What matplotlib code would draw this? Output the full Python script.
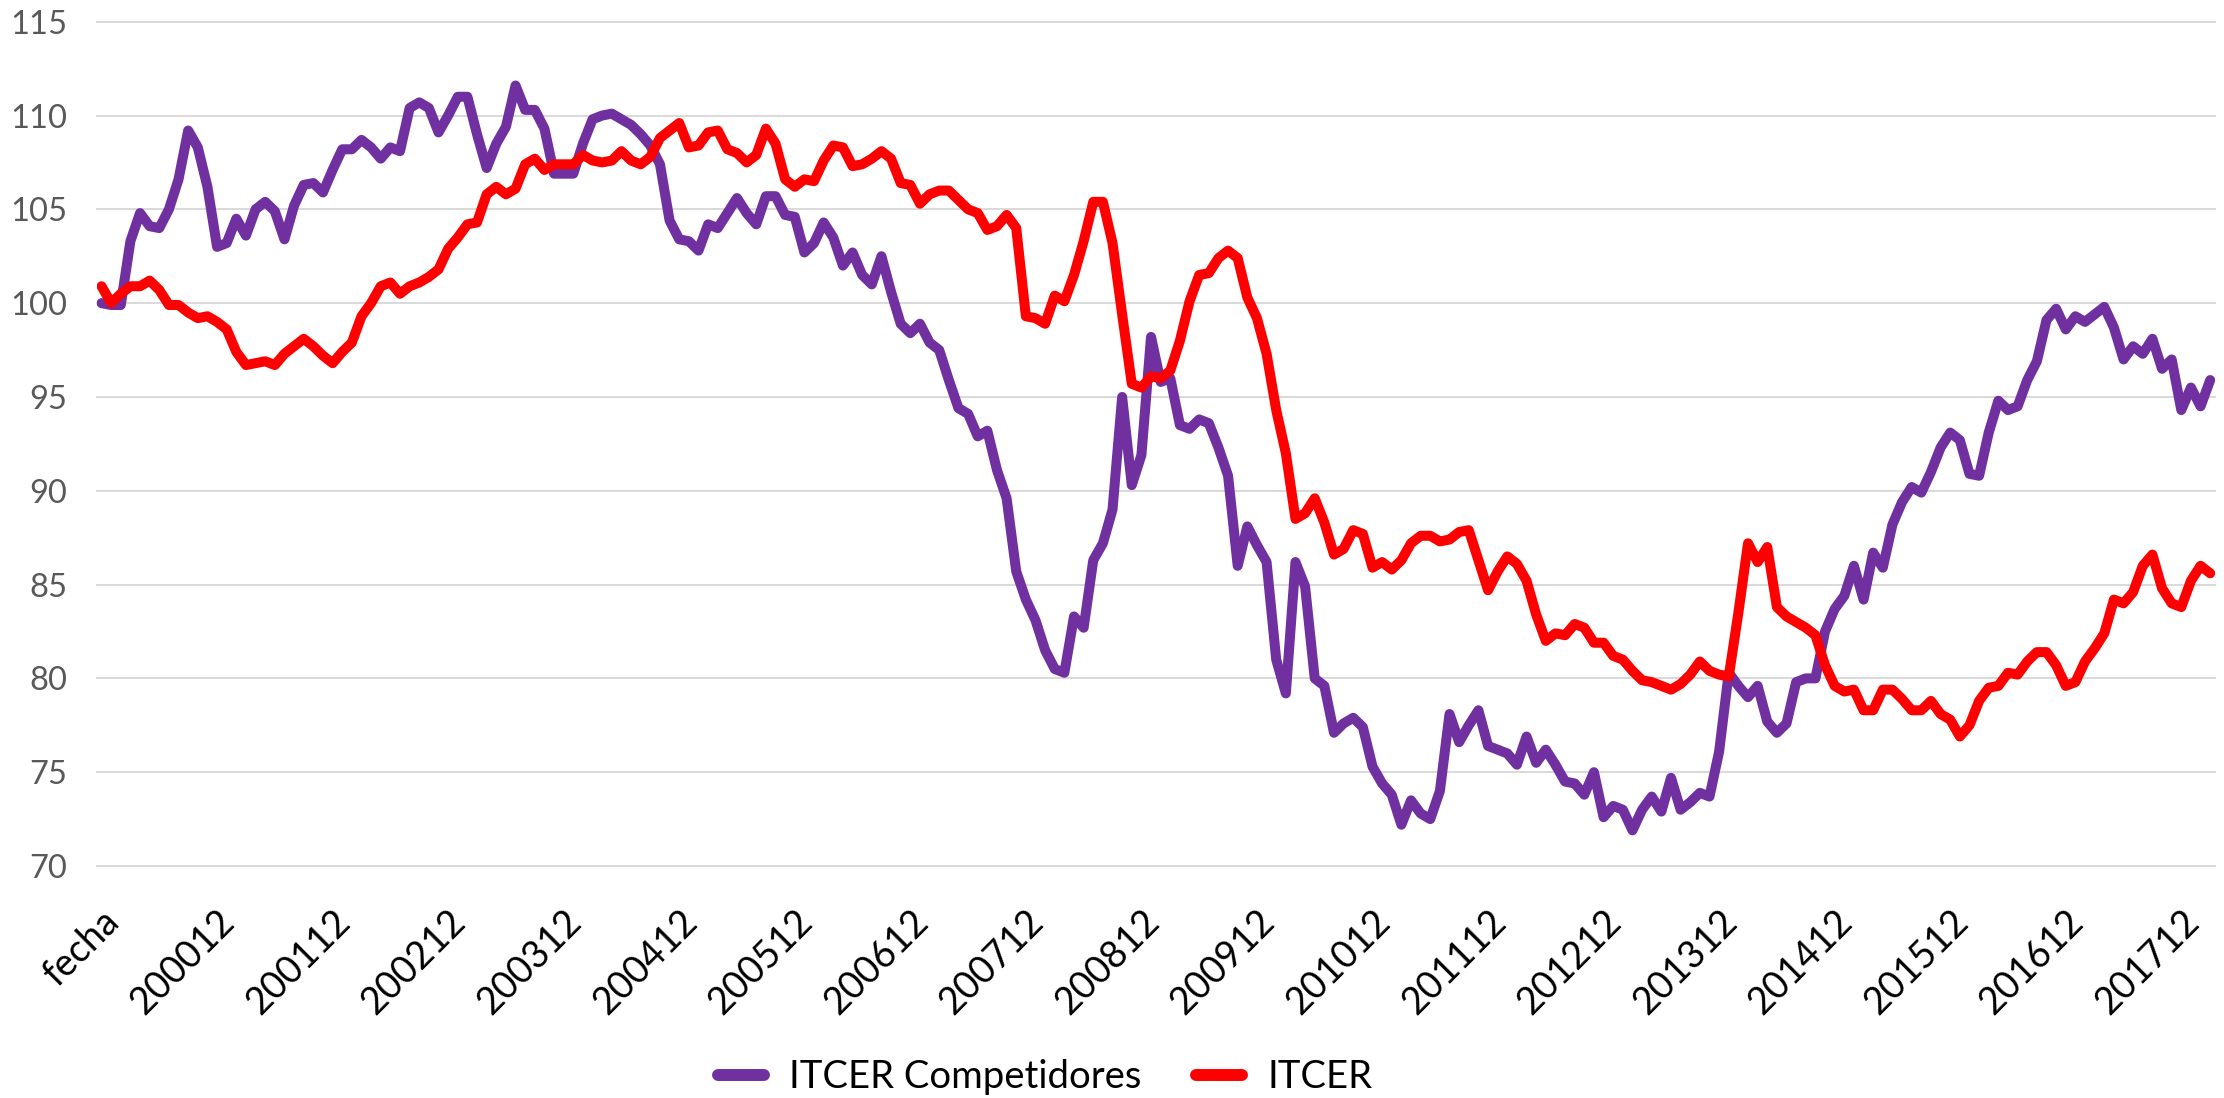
import matplotlib
matplotlib.use('Agg')
import matplotlib.pyplot as plt
from matplotlib.transforms import ScaledTranslation
import numpy as np

plt.rcParams['font.family'] = ['Lato', 'DejaVu Sans']

# ---- data (index 0 is labelled "fecha", then monthly 200001 ... 201803) ----
itcer_competidores = [
    100.0, 99.9, 99.9, 103.3, 104.8, 104.1, 104.0, 105.0, 106.6, 109.2,
    108.3, 106.2, 103.0, 103.2, 104.5, 103.6, 105.0, 105.4, 104.9, 103.4,
    105.2, 106.3, 106.4, 105.9, 107.1, 108.2, 108.2, 108.7, 108.3, 107.7,
    108.3, 108.1, 110.4, 110.7, 110.4, 109.1, 110.0, 111.0, 111.0, 109.0,
    107.2, 108.5, 109.4, 111.6, 110.3, 110.3, 109.3, 106.9,
    106.9, 106.9, 108.5, 109.8, 110.0, 110.1, 109.8, 109.5, 109.0, 108.4,
    107.4, 104.4, 103.4, 103.3, 102.8, 104.2, 104.0, 104.8, 105.6, 104.8,
    104.2, 105.7, 105.7, 104.7, 104.6, 102.7, 103.2, 104.3, 103.5, 102.0,
    102.7, 101.5, 101.0, 102.5, 100.6, 98.9, 98.4, 98.9, 97.9, 97.5,
    95.9, 94.4, 94.1, 92.9, 93.2, 91.1, 89.6,
    85.7, 84.2, 83.1, 81.5, 80.5, 80.3, 83.3, 82.7, 86.3, 87.2,
    89.0, 95.0, 90.3, 91.9, 98.2, 95.8, 96.0, 93.5, 93.3, 93.8,
    93.6, 92.3, 90.8, 86.0, 88.1, 87.1, 86.2, 81.0, 79.2, 86.2,
    84.9, 80.0, 79.6, 77.1, 77.6, 77.9, 77.4, 75.3, 74.4, 73.8,
    72.2, 73.5, 72.8, 72.5, 74.0, 78.1, 76.6, 77.5, 78.3, 76.4,
    76.2, 76.0, 75.4, 76.9, 75.5, 76.2, 75.4, 74.5, 74.4, 73.8,
    75.0, 72.6, 73.2, 73.0, 71.9, 73.0, 73.7, 72.9, 74.7, 73.0,
    73.4, 73.9, 73.7, 76.1, 80.3, 79.6, 79.0, 79.6, 77.7, 77.1,
    77.6, 79.8, 80.0, 80.0, 82.5, 83.7, 84.4, 86.0, 84.2, 86.7,
    85.9, 88.2, 89.4, 90.2, 89.9, 91.0, 92.3, 93.1, 92.7, 90.9,
    90.8, 93.1, 94.8, 94.3, 94.5, 95.9, 96.9, 99.1, 99.7, 98.6,
    99.3, 99.0, 99.4, 99.8, 98.7, 97.0, 97.7, 97.3, 98.1, 96.5,
    97.0, 94.3, 95.5, 94.5, 95.9,
]

itcer = [
    100.9, 100.0, 100.5, 100.9, 100.9, 101.2, 100.7, 99.9, 99.9, 99.5,
    99.2, 99.3, 99.0, 98.6, 97.4, 96.7, 96.8, 96.9, 96.7, 97.3,
    97.7, 98.1, 97.7, 97.2, 96.8, 97.4, 97.9, 99.3, 100.0, 100.9,
    101.1, 100.5, 100.9, 101.1, 101.4, 101.8, 102.9, 103.5, 104.2, 104.3,
    105.8, 106.2, 105.8, 106.1, 107.4, 107.7, 107.1, 107.4,
    107.4, 107.4, 107.9, 107.6, 107.5, 107.6, 108.1, 107.6, 107.4, 107.8,
    108.8, 109.2, 109.6, 108.3, 108.4, 109.1, 109.2, 108.2, 108.0, 107.5,
    107.9, 109.3, 108.5, 106.6, 106.2, 106.6, 106.5, 107.6, 108.4, 108.3,
    107.3, 107.4, 107.7, 108.1, 107.7, 106.4, 106.3, 105.3, 105.8, 106.0,
    106.0, 105.5, 105.0, 104.8, 103.9, 104.1, 104.7, 104.0, 99.3, 99.2,
    98.9, 100.4, 100.1,
    101.5, 103.3, 105.4, 105.4, 103.2, 99.4, 95.7, 95.5, 96.1, 96.0,
    96.4, 98.0, 100.1, 101.5, 101.6, 102.4, 102.8, 102.4, 100.3, 99.2,
    97.3, 94.3, 92.0, 88.5, 88.8, 89.6, 88.3, 86.6, 86.9, 87.9,
    87.7, 85.9, 86.2, 85.8, 86.3, 87.2, 87.6, 87.6, 87.3, 87.4,
    87.8, 87.9, 86.3, 84.7, 85.7, 86.5, 86.1, 85.2, 83.4,
    82.0, 82.4, 82.3, 82.9, 82.7, 81.9, 81.9, 81.2, 81.0, 80.4,
    79.9, 79.8, 79.6, 79.4, 79.7, 80.2, 80.9, 80.4, 80.2, 80.1,
    83.5, 87.2, 86.2, 87.0, 83.8, 83.3, 83.0, 82.7, 82.3, 80.7,
    79.6, 79.3, 79.4, 78.3, 78.3, 79.4, 79.4, 78.9, 78.3, 78.3,
    78.8, 78.1, 77.8, 76.9, 77.5, 78.8, 79.5, 79.6, 80.3, 80.2,
    80.9, 81.4, 81.4, 80.7, 79.6, 79.8, 80.9, 81.6, 82.4, 84.2,
    84.0, 84.6, 86.0, 86.6, 84.8, 84.0, 83.8, 85.2, 86.0, 85.6,
]

tick_labels = ['fecha', '200012', '200112', '200212', '200312', '200412',
               '200512', '200612', '200712', '200812', '200912', '201012',
               '201112', '201212', '201312', '201412', '201512', '201612',
               '201712']
y_ticks = [70, 75, 80, 85, 90, 95, 100, 105, 110, 115]

n = min(len(itcer_competidores), len(itcer))
x = np.arange(n)

fig = plt.figure(figsize=(22.24, 10.98), dpi=100)
ax = fig.add_axes([96.7 / 2224, 1 - 866 / 1098, (2215 - 96.7) / 2224, (866 - 21.7) / 1098])

ax.plot(x, itcer_competidores[:n], color='#7030A0', lw=7.2,
        solid_capstyle='round', solid_joinstyle='round', zorder=2,
        label='ITCER Competidores')
ax.plot(x, itcer[:n], color='#FF0000', lw=7.2,
        solid_capstyle='round', solid_joinstyle='round', zorder=3,
        label='ITCER')

ax.set_xlim(-0.5, n - 0.5)
ax.set_ylim(70, 115)
ax.set_yticks(y_ticks)
ax.grid(axis='y', color='#D9D9D9', lw=1.4, clip_on=False)
ax.grid(axis='x', visible=False)
ax.set_axisbelow(True)
for s in ax.spines.values():
    s.set_visible(False)

ax.tick_params(axis='y', length=0, pad=21, labelsize=23.5, labelcolor='#595959')
ax.set_xticks(np.arange(0, 12 * len(tick_labels), 12))
ax.set_xticklabels(tick_labels, rotation=45, ha='right', va='center',
                   rotation_mode='anchor', fontsize=27, color='black')
ax.tick_params(axis='x', length=0, pad=36)
off = ScaledTranslation(0.12, 0, fig.dpi_scale_trans)
for lab in ax.get_xticklabels():
    lab.set_transform(lab.get_transform() + off)

leg = fig.legend(loc='center', bbox_to_anchor=(1045 / 2224, 1 - 1077 / 1098),
                 ncol=2, frameon=False, fontsize=27.5, handlelength=1.2,
                 handletextpad=0.65, columnspacing=1.45)
for h in leg.get_lines():
    h.set_linewidth(8.6)
    h.set_solid_capstyle('round')

fig.savefig('out.png', dpi=100)
